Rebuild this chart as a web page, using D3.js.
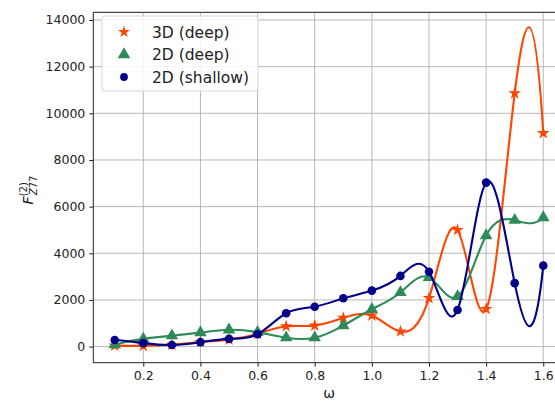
<!DOCTYPE html>
<html><head><meta charset="utf-8">
<script src="https://cdn.jsdelivr.net/npm/d3@7"></script>
<style>body{margin:0;background:#fff}svg{display:block}text{font-family:"DejaVu Sans",sans-serif;fill:#222}</style>
</head><body><svg id="c" width="555" height="403"></svg>
<script>
const omega = [0.1,0.2,0.3,0.4,0.5,0.6,0.7,0.8,0.9,1.0,1.1,1.2,1.3,1.4,1.5,1.6];
const deep3D = [40,30,80,200,300,550,870,900,1230,1330,650,2080,5000,1610,10860,9150];
const deep2D = [80,330,470,600,720,620,380,380,900,1600,2320,2970,2150,4760,5420,5530];
const shallow2D = [280,150,70,190,330,530,1430,1710,2070,2400,3030,3210,1570,7030,2720,3470];
const xTicks = [0.2,0.4,0.6,0.8,1.0,1.2,1.4,1.6];
const yTicks = [0,2000,4000,6000,8000,10000,12000,14000];
const seriesNames = ["3D (deep)","2D (deep)","2D (shallow)"];
const seriesColors = ["#ff4500","#2e8b57","#00008b"];

const svg = d3.select("#c");
const L=93.3, R=564.7, T=12.3, B=362.7;
const x = d3.scaleLinear().domain([0.025,1.675]).range([L,R]);
const y = d3.scaleLinear().domain([-690,14330]).range([B,T]);

// not-a-knot cubic spline curve (like scipy CubicSpline) as a D3 curve
function curveNotAKnot(context){
  let xs=[], ys=[];
  return {
    areaStart(){}, areaEnd(){},
    lineStart(){xs=[];ys=[];},
    point(a,b){xs.push(+a);ys.push(+b);},
    lineEnd(){
      const n=xs.length;
      if(n<4){context.moveTo(xs[0],ys[0]);for(let i=1;i<n;i++)context.lineTo(xs[i],ys[i]);return;}
      const h=[],s=[];
      for(let i=0;i<n-1;i++){h.push(xs[i+1]-xs[i]);s.push((ys[i+1]-ys[i])/h[i]);}
      const A=Array.from({length:n},()=>new Array(n).fill(0)), bv=new Array(n).fill(0);
      let d=xs[2]-xs[0];
      A[0][0]=h[1];A[0][1]=d;
      bv[0]=((h[0]+2*d)*h[1]*s[0]+h[0]*h[0]*s[1])/d;
      for(let i=1;i<n-1;i++){
        A[i][i-1]=h[i];A[i][i]=2*(h[i-1]+h[i]);A[i][i+1]=h[i-1];
        bv[i]=3*(h[i]*s[i-1]+h[i-1]*s[i]);
      }
      d=xs[n-1]-xs[n-3];
      A[n-1][n-2]=d;A[n-1][n-1]=h[n-3];
      bv[n-1]=(h[n-2]*h[n-2]*s[n-3]+(2*d+h[n-2])*h[n-3]*s[n-2])/d;
      for(let c=0;c<n;c++){
        let p=c;for(let r=c+1;r<n;r++)if(Math.abs(A[r][c])>Math.abs(A[p][c]))p=r;
        [A[c],A[p]]=[A[p],A[c]];[bv[c],bv[p]]=[bv[p],bv[c]];
        for(let r=c+1;r<n;r++){const f=A[r][c]/A[c][c];if(!f)continue;for(let k=c;k<n;k++)A[r][k]-=f*A[c][k];bv[r]-=f*bv[c];}
      }
      const m=new Array(n);
      for(let r=n-1;r>=0;r--){let sum=bv[r];for(let k=r+1;k<n;k++)sum-=A[r][k]*m[k];m[r]=sum/A[r][r];}
      context.moveTo(xs[0],ys[0]);
      for(let i=0;i<n-1;i++){
        const hh=h[i];
        context.bezierCurveTo(xs[i]+hh/3,ys[i]+m[i]*hh/3,xs[i+1]-hh/3,ys[i+1]-m[i+1]*hh/3,xs[i+1],ys[i+1]);
      }
    }
  };
}

// grid
const g = svg.append("g");
g.selectAll(".gx").data(xTicks).join("line").attr("x1",d=>x(d)).attr("x2",d=>x(d)).attr("y1",T).attr("y2",B)
 .attr("stroke","#b0b0b0").attr("stroke-width",0.9);
g.selectAll(".gy").data(yTicks).join("line").attr("x1",L).attr("x2",R).attr("y1",d=>y(d)).attr("y2",d=>y(d))
 .attr("stroke","#b0b0b0").attr("stroke-width",0.9);

// axes
const xAxis = svg.append("g").attr("transform",`translate(0,${B})`)
  .call(d3.axisBottom(x).tickValues(xTicks).tickFormat(d3.format(".1f")).tickSize(4).tickPadding(4));
const yAxis = svg.append("g").attr("transform",`translate(${L},0)`)
  .call(d3.axisLeft(y).tickValues(yTicks).tickFormat(d=>String(d)).tickSize(4).tickPadding(4));
[xAxis,yAxis].forEach(a=>{a.select(".domain").remove();a.selectAll("text").style("font-size","12.5px").attr("fill","#222").style("font-family","DejaVu Sans");a.selectAll("line").attr("stroke","#222");});
// spines
svg.append("line").attr("x1",L).attr("x2",L).attr("y1",T).attr("y2",B).attr("stroke","#222").attr("stroke-width",1);
svg.append("line").attr("x1",L).attr("x2",R).attr("y1",B).attr("y2",B).attr("stroke","#222").attr("stroke-width",1);
svg.append("line").attr("x1",L).attr("x2",R).attr("y1",T).attr("y2",T).attr("stroke","#444").attr("stroke-width",1.2);

// series
const allSeries=[deep3D,deep2D,shallow2D];
const symbols=[d3.symbolStar,d3.symbolTriangle,d3.symbolCircle];
const symSize=[50,68,58];
const line=d3.line().x(d=>x(d[0])).y(d=>y(d[1])).curve(curveNotAKnot);
allSeries.forEach((vals,si)=>{
  const pts=omega.map((o,i)=>[o,vals[i]]);
  svg.append("path").datum(pts).attr("d",line).attr("fill","none").attr("stroke",seriesColors[si]).attr("stroke-width",2.1);
  svg.append("g").selectAll("path").data(pts).join("path")
   .attr("transform",d=>`translate(${x(d[0])},${y(d[1])})`)
   .attr("d",d3.symbol(symbols[si],symSize[si])).attr("fill",seriesColors[si]);
});

// legend
const lg=svg.append("g");
lg.append("rect").attr("x",102).attr("y",16).attr("width",156).attr("height",75).attr("rx",3)
  .attr("fill","#fff").attr("fill-opacity",0.85).attr("stroke","#d8d8d8");
const legSize=[45,70,48];
seriesNames.forEach((nm,i)=>{
  const cy=32+i*22.5;
  lg.append("path").attr("transform",`translate(124,${cy})`).attr("d",d3.symbol(symbols[i],legSize[i])).attr("fill",seriesColors[i]);
  lg.append("text").attr("x",152).attr("y",cy+5.5).style("font-size","15.5px").text(nm);
});

// labels
svg.append("text").attr("x",329).attr("y",398).attr("text-anchor","middle").style("font-size","14px").text("ω");
const yl=svg.append("text").attr("transform","translate(33,190) rotate(-90)").attr("text-anchor","middle").style("font-size","14px");
yl.append("tspan").style("font-style","italic").text("F");
yl.append("tspan").attr("dy",-6).style("font-size","10px").text("(2)");
yl.append("tspan").attr("dx",-13).attr("dy",10).style("font-size","10px").style("font-style","italic").text("Z");
yl.append("tspan").style("font-size","10px").text("77");
</script></body></html>
